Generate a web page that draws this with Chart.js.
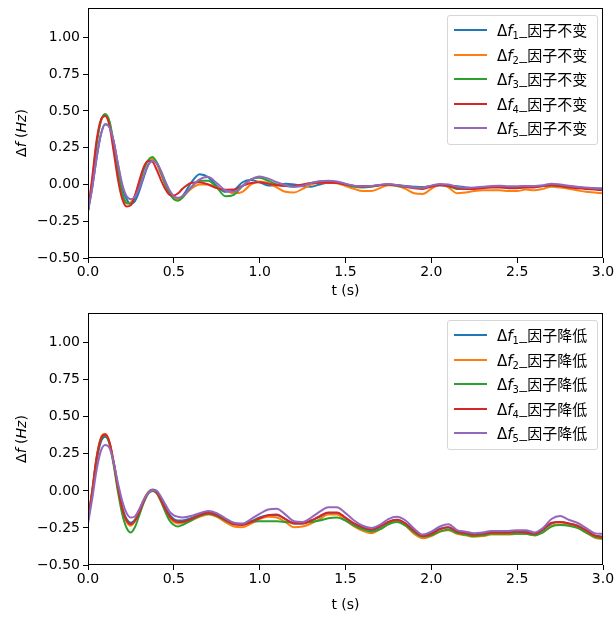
<!DOCTYPE html>
<html>
<head>
<meta charset="utf-8">
<script src="https://cdn.jsdelivr.net/npm/chart.js@4.4.1/dist/chart.umd.min.js"></script>
<style>
  html, body { margin: 0; padding: 0; background: #fff; }
  body { width: 614px; height: 617px; position: relative; overflow: hidden; }
  .wrap { position: absolute; left: 0; width: 614px; }
  .legend { position: absolute; border: 1px solid #d6d6d6; border-radius: 3px; background: rgba(255,255,255,0.85);
            font-family: "DejaVu Sans", "Noto Sans CJK SC", sans-serif; font-size: 15px; color: #000; }
  .legend .row { position: absolute; left: 0; height: 20px; width: 100%; }
  .legend .hl { position: absolute; left: 6px; width: 33px; height: 2px; top: 9px; }
  .legend .tx { position: absolute; left: 49px; top: 0; line-height: 20px; white-space: nowrap; }
  .legend .tx sub { font-size: 10px; vertical-align: -3px; line-height: 0; }
  .legend .cjk { font-family: "Noto Sans CJK SC", sans-serif; }
</style>
</head>
<body>
<div class="wrap" id="w1" style="top:0px; height:300px"><canvas id="c1"></canvas></div>
<div class="wrap" id="w2" style="top:305px; height:312px"><canvas id="c2"></canvas></div>
<div class="legend" id="lg1" style="left:447px; top:15px; width:149px; height:128px;"></div>
<div class="legend" id="lg2" style="left:447px; top:320px; width:149px; height:128px;"></div>
<script>
// ---------- data ----------
const times = [0,0.025,0.05,0.075,0.1,0.125,0.15,0.175,0.2,0.225,0.25,0.275,0.3,0.325,0.35,0.375,0.4,0.425,0.45,0.475,0.5,0.525,0.55,
  0.6,0.65,0.7,0.75,0.8,0.85,0.9,0.95,1.0,
  1.05,1.1,1.15,1.2,1.25,1.3,1.35,1.4,1.45,1.5,1.55,1.6,1.65,1.7,1.75,1.8,1.85,1.9,1.95,2.0,
  2.05,2.1,2.15,2.2,2.25,2.3,2.35,2.4,2.45,2.5,2.55,2.6,2.65,2.7,2.75,2.8,2.85,2.9,2.95,3.0];

// top panel: 因子不变
const topF1 = [-0.18,-0.02,0.18,0.34,0.41,0.39,0.29,0.13,-0.02,-0.10,-0.13,-0.11,-0.04,0.05,0.13,0.17,0.15,0.09,0.02,-0.05,-0.09,-0.10,-0.08,
  0.01,0.07,0.05,-0.01,-0.05,-0.04,0.015,0.03,0.015,
  -0.007,-0.005,0.005,0.0,-0.012,-0.015,0.0,0.012,0.012,0.0,-0.01,-0.01,-0.01,-0.003,0.0,-0.005,-0.01,-0.015,-0.018,-0.012,
  -0.005,-0.008,-0.012,-0.02,-0.025,-0.02,-0.015,-0.012,-0.018,-0.02,-0.015,-0.015,-0.01,-0.005,-0.01,-0.015,-0.02,-0.025,-0.025,-0.028];
const topF2 = [-0.18,0.03,0.28,0.43,0.47,0.42,0.26,0.07,-0.07,-0.13,-0.12,-0.07,0.02,0.11,0.16,0.175,0.14,0.07,0.0,-0.06,-0.095,-0.10,-0.085,
  -0.03,0.0,0.0,-0.02,-0.04,-0.06,-0.05,0.0,0.02,
  0.01,-0.02,-0.05,-0.055,-0.03,0.0,0.01,0.012,0.008,-0.01,-0.03,-0.045,-0.045,-0.025,-0.005,-0.01,-0.03,-0.06,-0.065,-0.03,
  0.0,-0.02,-0.06,-0.055,-0.045,-0.04,-0.04,-0.04,-0.045,-0.045,-0.035,-0.04,-0.03,-0.015,-0.02,-0.03,-0.04,-0.05,-0.055,-0.06];
const topF3 = [-0.18,0.02,0.27,0.43,0.48,0.43,0.28,0.09,-0.06,-0.125,-0.13,-0.08,0.01,0.10,0.165,0.186,0.15,0.08,0.0,-0.06,-0.10,-0.11,-0.09,
  -0.02,0.025,0.025,-0.02,-0.08,-0.07,-0.01,0.035,0.045,
  0.025,0.0,-0.01,-0.015,-0.005,0.01,0.02,0.022,0.015,0.0,-0.015,-0.02,-0.015,-0.005,0.0,-0.008,-0.015,-0.02,-0.02,-0.01,
  -0.002,-0.01,-0.03,-0.03,-0.025,-0.02,-0.018,-0.018,-0.02,-0.022,-0.018,-0.015,-0.01,-0.005,-0.01,-0.015,-0.02,-0.025,-0.03,-0.035];
const topF4 = [-0.18,0.05,0.30,0.44,0.465,0.40,0.22,0.03,-0.10,-0.15,-0.14,-0.07,0.03,0.12,0.16,0.155,0.10,0.03,-0.03,-0.07,-0.075,-0.06,-0.03,
  0.01,0.015,0.0,-0.025,-0.036,-0.035,-0.01,0.01,0.015,
  0.005,-0.005,-0.01,-0.01,0.0,0.01,0.012,0.012,0.01,0.0,-0.01,-0.015,-0.012,-0.005,0.0,-0.005,-0.015,-0.025,-0.03,-0.015,
  -0.005,-0.01,-0.025,-0.03,-0.03,-0.025,-0.02,-0.02,-0.025,-0.025,-0.02,-0.02,-0.01,-0.005,-0.01,-0.02,-0.025,-0.03,-0.035,-0.04];
const topF5 = [-0.18,-0.02,0.18,0.34,0.41,0.39,0.29,0.14,0.0,-0.08,-0.10,-0.08,-0.02,0.06,0.13,0.16,0.145,0.09,0.02,-0.04,-0.08,-0.09,-0.08,
  -0.02,0.035,0.05,0.01,-0.04,-0.05,-0.01,0.035,0.055,
  0.04,0.015,-0.005,-0.015,-0.01,0.01,0.022,0.025,0.02,0.005,-0.008,-0.012,-0.01,-0.003,0.003,-0.003,-0.012,-0.02,-0.022,-0.008,
  0.003,0.0,-0.015,-0.022,-0.02,-0.015,-0.01,-0.008,-0.012,-0.012,-0.01,-0.01,-0.005,0.005,0.0,-0.008,-0.015,-0.02,-0.025,-0.028];

// bottom panel: 因子降低
const botF1 = [-0.2,-0.01,0.2,0.33,0.365,0.32,0.19,0.03,-0.11,-0.19,-0.215,-0.19,-0.13,-0.06,-0.01,0.01,0.0,-0.05,-0.11,-0.16,-0.19,-0.2,-0.2,
  -0.185,-0.16,-0.14,-0.155,-0.19,-0.22,-0.225,-0.205,-0.18,
  -0.165,-0.165,-0.19,-0.22,-0.22,-0.2,-0.175,-0.15,-0.15,-0.185,-0.225,-0.25,-0.265,-0.245,-0.21,-0.195,-0.22,-0.27,-0.3,-0.285,
  -0.255,-0.245,-0.275,-0.285,-0.295,-0.29,-0.28,-0.28,-0.28,-0.275,-0.275,-0.29,-0.265,-0.22,-0.21,-0.22,-0.235,-0.265,-0.3,-0.31];
const botF2 = [-0.2,0.01,0.23,0.36,0.385,0.33,0.19,0.01,-0.13,-0.21,-0.235,-0.2,-0.13,-0.06,-0.01,0.005,-0.015,-0.07,-0.13,-0.18,-0.21,-0.22,-0.215,
  -0.2,-0.175,-0.16,-0.175,-0.21,-0.24,-0.245,-0.22,-0.19,
  -0.175,-0.18,-0.21,-0.245,-0.24,-0.22,-0.19,-0.16,-0.16,-0.2,-0.24,-0.27,-0.285,-0.26,-0.22,-0.205,-0.235,-0.29,-0.32,-0.305,
  -0.275,-0.265,-0.29,-0.3,-0.31,-0.305,-0.295,-0.295,-0.295,-0.29,-0.29,-0.3,-0.28,-0.235,-0.225,-0.23,-0.245,-0.28,-0.315,-0.325];
const botF3 = [-0.2,0.0,0.22,0.35,0.375,0.32,0.17,-0.01,-0.16,-0.25,-0.28,-0.24,-0.16,-0.08,-0.02,0.0,-0.015,-0.07,-0.14,-0.2,-0.23,-0.24,-0.23,
  -0.2,-0.17,-0.155,-0.17,-0.2,-0.225,-0.225,-0.21,-0.205,
  -0.205,-0.205,-0.21,-0.215,-0.215,-0.21,-0.2,-0.185,-0.18,-0.2,-0.235,-0.26,-0.275,-0.26,-0.225,-0.21,-0.235,-0.28,-0.31,-0.3,
  -0.275,-0.26,-0.285,-0.295,-0.305,-0.3,-0.29,-0.29,-0.29,-0.29,-0.29,-0.3,-0.28,-0.24,-0.23,-0.235,-0.25,-0.28,-0.31,-0.32];
const botF4 = [-0.2,0.0,0.22,0.35,0.38,0.33,0.19,0.02,-0.12,-0.2,-0.225,-0.2,-0.14,-0.07,-0.015,0.005,-0.01,-0.06,-0.12,-0.17,-0.2,-0.21,-0.21,
  -0.19,-0.165,-0.15,-0.165,-0.195,-0.225,-0.23,-0.21,-0.185,
  -0.165,-0.16,-0.19,-0.22,-0.22,-0.2,-0.17,-0.145,-0.145,-0.18,-0.22,-0.245,-0.26,-0.24,-0.21,-0.195,-0.22,-0.27,-0.305,-0.29,
  -0.26,-0.245,-0.275,-0.285,-0.295,-0.29,-0.28,-0.28,-0.28,-0.275,-0.28,-0.29,-0.26,-0.215,-0.21,-0.22,-0.235,-0.265,-0.3,-0.31];
const botF5 = [-0.22,-0.05,0.14,0.27,0.31,0.29,0.19,0.05,-0.07,-0.15,-0.18,-0.17,-0.12,-0.06,-0.015,0.005,0.0,-0.04,-0.09,-0.14,-0.165,-0.175,-0.18,
  -0.17,-0.15,-0.135,-0.15,-0.185,-0.215,-0.22,-0.19,-0.155,
  -0.125,-0.12,-0.16,-0.205,-0.21,-0.18,-0.14,-0.11,-0.11,-0.15,-0.2,-0.235,-0.25,-0.23,-0.19,-0.175,-0.2,-0.255,-0.295,-0.275,
  -0.24,-0.225,-0.265,-0.275,-0.285,-0.28,-0.27,-0.27,-0.27,-0.265,-0.265,-0.28,-0.25,-0.19,-0.17,-0.195,-0.215,-0.25,-0.285,-0.29];

const xTicks = [0, 0.5, 1.0, 1.5, 2.0, 2.5, 3.0];
const yTicks = [-0.5, -0.25, 0, 0.25, 0.5, 0.75, 1.0];
const seriesIdx = ['1', '2', '3', '4', '5'];
const topSuffix = '因子不变';
const botSuffix = '因子降低';
const xTitle = 't (s)';

// ---------- styling ----------
const colors = ['#1f77b4', '#ff7f0e', '#2ca02c', '#d62728', '#9467bd'];
const tickFont = { family: '"DejaVu Sans", sans-serif', size: 14 };

const framePlugin = {
  id: 'frame',
  afterDraw(chart) {
    const { ctx, chartArea: a } = chart;
    ctx.save();
    ctx.strokeStyle = '#000';
    ctx.lineWidth = 1;
    const l = Math.floor(a.left) + 0.5, t = Math.floor(a.top) + 0.5;
    const r = Math.floor(a.right) - 0.5, b = Math.floor(a.bottom) - 0.5;
    ctx.strokeRect(l, t, r - l, b - t);
    // y axis title with math-style italics: Δf (Hz)
    const parts = [['Δ', ''], ['f', 'italic '], [' (', ''], ['Hz', 'italic '], [')', '']];
    let total = 0;
    parts.forEach(p => { ctx.font = p[1] + '14px "DejaVu Sans", sans-serif'; p.push(ctx.measureText(p[0]).width); total += p[2]; });
    ctx.translate(22, (a.top + a.bottom) / 2);
    ctx.rotate(-Math.PI / 2);
    ctx.fillStyle = '#000';
    ctx.textBaseline = 'middle';
    ctx.textAlign = 'left';
    let x = -total / 2;
    parts.forEach(p => { ctx.font = p[1] + '14px "DejaVu Sans", sans-serif'; ctx.fillText(p[0], x, 0); x += p[2]; });
    ctx.restore();
  }
};

function makeChart(canvasId, series, padTop, xAxisH, titlePadBottom) {
  const datasets = series.map((s, i) => ({
    label: 'Δf' + seriesIdx[i],
    data: times.map((t, j) => ({ x: t, y: s[j] })),
    borderColor: colors[i],
    backgroundColor: colors[i],
    borderWidth: 2,
    pointRadius: 0,
    cubicInterpolationMode: 'monotone',
    fill: false,
    order: series.length - i
  }));
  return new Chart(document.getElementById(canvasId), {
    type: 'line',
    data: { datasets },
    options: {
      responsive: false,
      animation: false,
      devicePixelRatio: 1,
      layout: { padding: { top: padTop, right: 11, left: 0, bottom: 0 } },
      plugins: { legend: { display: false }, tooltip: { enabled: false } },
      scales: {
        x: {
          type: 'linear', min: 0, max: 3,
          afterFit(s) { s.height = xAxisH; s.paddingLeft = 0; s.paddingRight = 0; },
          afterBuildTicks(s) { s.ticks = xTicks.map(v => ({ value: v })); },
          grid: { display: true, drawOnChartArea: false, drawTicks: true, tickLength: 5, color: '#000', lineWidth: 1 },
          border: { display: false },
          ticks: { font: tickFont, color: '#000', padding: 1, maxRotation: 0, callback: v => Number(v).toFixed(1) },
          title: { display: true, text: xTitle, font: tickFont, color: '#000', padding: { top: 0, bottom: titlePadBottom } }
        },
        y: {
          type: 'linear', min: -0.5, max: 1.2,
          afterFit(s) { s.width = 88; s.paddingTop = 0; s.paddingBottom = 0; },
          afterBuildTicks(s) { s.ticks = yTicks.map(v => ({ value: v })); },
          grid: { display: true, drawOnChartArea: false, drawTicks: true, tickLength: 5, color: '#000', lineWidth: 1 },
          border: { display: false },
          ticks: { font: tickFont, color: '#000', padding: 3, callback: v => Number(v).toFixed(2).replace('-', '\u2212') }
        }
      }
    },
    plugins: [framePlugin]
  });
}

function sizeCanvas(id, h) {
  const c = document.getElementById(id);
  c.width = 614; c.height = h;
  c.style.width = '614px'; c.style.height = h + 'px';
}
sizeCanvas('c1', 300); sizeCanvas('c2', 312);

const chartTop = makeChart('c1', [topF1, topF2, topF3, topF4, topF5], 8, 42, 0);
const chartBot = makeChart('c2', [botF1, botF2, botF3, botF4, botF5], 8, 52, 3);

function buildLegend(id, suffix) {
  const box = document.getElementById(id);
  seriesIdx.forEach((n, i) => {
    const row = document.createElement('div');
    row.className = 'row';
    row.style.top = (4 + i * 24.5) + 'px';
    const hl = document.createElement('div');
    hl.className = 'hl';
    hl.style.background = colors[i];
    const tx = document.createElement('div');
    tx.className = 'tx';
    tx.innerHTML = 'Δ<i>f</i><sub>' + n + '</sub><span class="cjk">_' + suffix + '</span>';
    row.appendChild(hl); row.appendChild(tx);
    box.appendChild(row);
  });
}
buildLegend('lg1', topSuffix);
buildLegend('lg2', botSuffix);
</script>
</body>
</html>
